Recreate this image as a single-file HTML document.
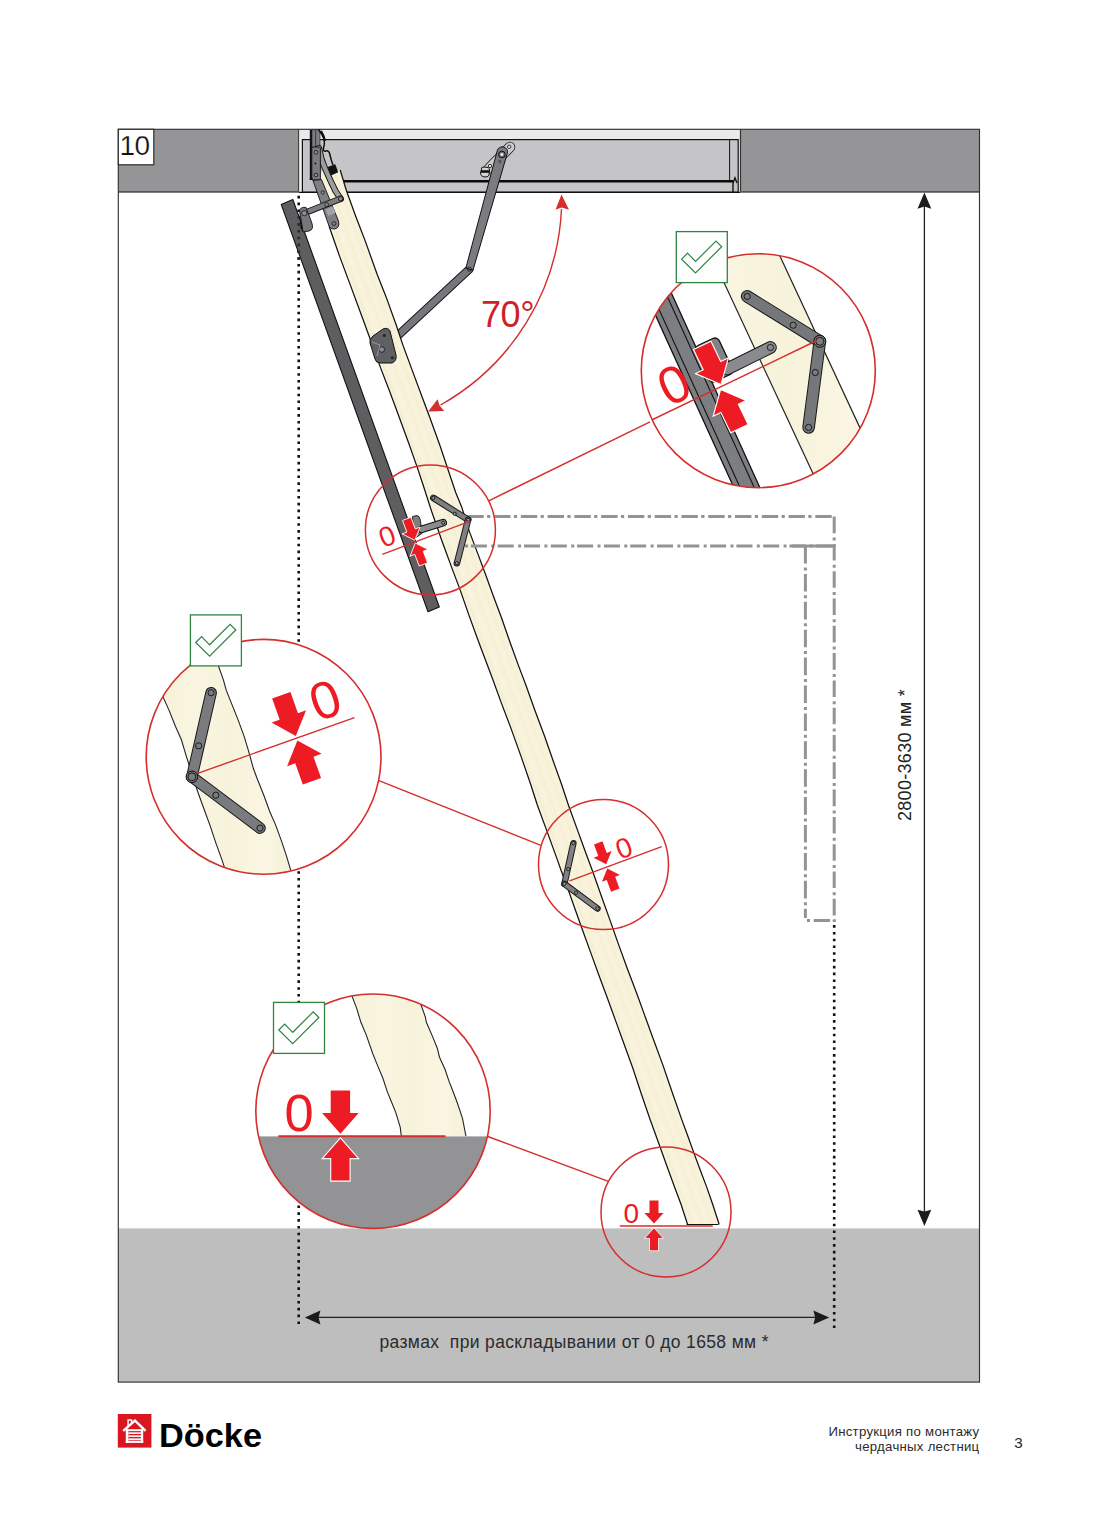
<!DOCTYPE html><html><head><meta charset="utf-8"><title>Docke</title><style>
html,body{margin:0;padding:0;background:#fff;}body{width:1099px;height:1536px;position:relative;overflow:hidden;font-family:"Liberation Sans",sans-serif;}
svg{position:absolute;left:0;top:0;}
.t{position:absolute;white-space:nowrap;color:#2b2b2b;}
</style></head><body>
<svg width="1099" height="1536" viewBox="0 0 1099 1536">
<defs>
<linearGradient id="wood" x1="0" y1="0" x2="1" y2="0"><stop offset="0" stop-color="#f6f0d6"/><stop offset="0.3" stop-color="#f9f5e1"/><stop offset="0.55" stop-color="#f7f2da"/><stop offset="0.8" stop-color="#faf6e3"/><stop offset="1" stop-color="#f6f0d6"/></linearGradient>
</defs>
<rect x="118.3" y="129.3" width="861.2" height="1252.2" fill="#fff"/>
<rect x="118.3" y="129.3" width="861.2" height="62.5" fill="#959597"/>
<rect x="118.3" y="1228.4" width="861.2" height="153.6" fill="#bebebe"/>
<rect x="298.6" y="129.3" width="441.8" height="62.7" fill="#ebeaea"/>
<rect x="302.4" y="139.6" width="435.8" height="52.6" fill="#c5c5c7" stroke="#111" stroke-width="1.2"/>
<line x1="729.6" y1="139.6" x2="729.6" y2="181" stroke="#111" stroke-width="1"/>
<line x1="336" y1="181.3" x2="733" y2="181.3" stroke="#0a0a0a" stroke-width="2.6"/>
<line x1="298.6" y1="129.3" x2="298.6" y2="192" stroke="#333" stroke-width="1"/>
<line x1="740.5" y1="129.3" x2="740.5" y2="192" stroke="#333" stroke-width="1.2"/>
<path d="M733,192 L733,183 L735,178 L737,183" fill="none" stroke="#111" stroke-width="1.4"/>
<line x1="118.3" y1="191.8" x2="299" y2="191.8" stroke="#555355" stroke-width="1.8"/>
<line x1="740" y1="191.8" x2="979.5" y2="191.8" stroke="#555355" stroke-width="1.8"/>
<line x1="299" y1="192.4" x2="740" y2="192.4" stroke="#111" stroke-width="1.2"/>
<rect x="118.3" y="129.3" width="861.2" height="1252.8" fill="none" stroke="#333" stroke-width="1.15"/>
<rect x="118.3" y="129.3" width="35.5" height="35.5" fill="#fff" stroke="#2d2d2d" stroke-width="1.2"/>
<line x1="298.7" y1="195.8" x2="298.7" y2="1325" stroke="#111" stroke-width="2.6" stroke-dasharray="2.6 4.222"/>
<line x1="834.2" y1="925.1" x2="834.2" y2="1328.5" stroke="#111" stroke-width="2.6" stroke-dasharray="2.6 4.186"/>
<path d="M469.4,269.2 L392,341" fill="none" stroke="#1a1a1a" stroke-width="8.6" stroke-linecap="round" stroke-linejoin="round"/><path d="M469.4,269.2 L392,341" fill="none" stroke="#76777b" stroke-width="6.6" stroke-linecap="round" stroke-linejoin="round"/>
<clipPath id="stc"><polygon points="312.0,172.0 318.0,190.0 324.5,210.0 329.1,226.3 339.7,256.6 351.0,286.9 363.7,321.2 371.6,343.0 380.5,367.6 389.8,391.8 399.5,418.0 409.1,444.2 417.6,468.4 422.8,484.0 431.6,511.3 442.5,542.5 452.5,569.6 460.3,590.4 469.0,615.4 477.3,638.3 485.2,659.2 493.0,680.0 501.3,702.9 510.8,727.9 521.3,757.1 530.9,785.0 537.3,805.0 547.3,832.1 556.4,857.1 561.6,871.7 567.7,888.3 575.1,909.2 582.5,930.0 590.8,952.9 599.1,975.8 606.9,996.7 615.2,1019.6 623.5,1042.5 632.6,1067.5 641.7,1095.0 650.2,1119.7 658.9,1143.7 666.7,1165.5 673.9,1185.2 681.2,1204.8 687.6,1224.5 719.2,1224.5 712.5,1203.7 706.8,1187.4 700.6,1171.0 694.5,1154.6 687.8,1136.0 681.4,1118.6 671.4,1090.0 663.0,1065.4 653.0,1038.3 644.7,1015.4 636.4,992.5 626.9,967.5 618.6,944.6 609.8,919.6 601.6,896.7 592.8,871.7 585.0,850.8 576.7,827.9 568.4,805.0 561.1,783.0 553.3,761.3 544.6,736.3 534.5,709.2 526.3,686.3 518.4,665.4 510.1,642.5 501.4,617.5 493.6,596.7 485.3,573.8 477.5,552.9 469.6,532.1 461.7,507.1 455.8,492.7 449.0,472.5 440.2,446.3 430.0,418.0 422.4,397.8 412.7,371.6 403.0,345.4 396.3,325.2 386.1,296.9 377.3,274.7 365.0,240.4 355.7,216.2 346.2,190.0 340.2,170.0"/></clipPath>
<polygon points="312.0,172.0 318.0,190.0 324.5,210.0 329.1,226.3 339.7,256.6 351.0,286.9 363.7,321.2 371.6,343.0 380.5,367.6 389.8,391.8 399.5,418.0 409.1,444.2 417.6,468.4 422.8,484.0 431.6,511.3 442.5,542.5 452.5,569.6 460.3,590.4 469.0,615.4 477.3,638.3 485.2,659.2 493.0,680.0 501.3,702.9 510.8,727.9 521.3,757.1 530.9,785.0 537.3,805.0 547.3,832.1 556.4,857.1 561.6,871.7 567.7,888.3 575.1,909.2 582.5,930.0 590.8,952.9 599.1,975.8 606.9,996.7 615.2,1019.6 623.5,1042.5 632.6,1067.5 641.7,1095.0 650.2,1119.7 658.9,1143.7 666.7,1165.5 673.9,1185.2 681.2,1204.8 687.6,1224.5 719.2,1224.5 712.5,1203.7 706.8,1187.4 700.6,1171.0 694.5,1154.6 687.8,1136.0 681.4,1118.6 671.4,1090.0 663.0,1065.4 653.0,1038.3 644.7,1015.4 636.4,992.5 626.9,967.5 618.6,944.6 609.8,919.6 601.6,896.7 592.8,871.7 585.0,850.8 576.7,827.9 568.4,805.0 561.1,783.0 553.3,761.3 544.6,736.3 534.5,709.2 526.3,686.3 518.4,665.4 510.1,642.5 501.4,617.5 493.6,596.7 485.3,573.8 477.5,552.9 469.6,532.1 461.7,507.1 455.8,492.7 449.0,472.5 440.2,446.3 430.0,418.0 422.4,397.8 412.7,371.6 403.0,345.4 396.3,325.2 386.1,296.9 377.3,274.7 365.0,240.4 355.7,216.2 346.2,190.0 340.2,170.0" fill="#f7f2d9" stroke="none"/>
<g clip-path="url(#stc)" opacity="0.35">
<line x1="309.9" y1="160" x2="694.3" y2="1230" stroke="#efe6c4" stroke-width="1.5"/>
<line x1="314.9" y1="160" x2="699.3" y2="1230" stroke="#fbf8ea" stroke-width="2.5"/>
<line x1="320.9" y1="160" x2="705.3" y2="1230" stroke="#f1e8c8" stroke-width="1.2"/>
<line x1="324.9" y1="160" x2="709.3" y2="1230" stroke="#fbf7e6" stroke-width="2"/>
<line x1="329.9" y1="160" x2="714.3" y2="1230" stroke="#f2e9c9" stroke-width="1.4"/>
</g>
<polyline points="329.1,226.3 339.7,256.6 351.0,286.9 363.7,321.2 371.6,343.0 380.5,367.6 389.8,391.8 399.5,418.0 409.1,444.2 417.6,468.4 422.8,484.0 431.6,511.3 442.5,542.5 452.5,569.6 460.3,590.4 469.0,615.4 477.3,638.3 485.2,659.2 493.0,680.0 501.3,702.9 510.8,727.9 521.3,757.1 530.9,785.0 537.3,805.0 547.3,832.1 556.4,857.1 561.6,871.7 567.7,888.3 575.1,909.2 582.5,930.0 590.8,952.9 599.1,975.8 606.9,996.7 615.2,1019.6 623.5,1042.5 632.6,1067.5 641.7,1095.0 650.2,1119.7 658.9,1143.7 666.7,1165.5 673.9,1185.2 681.2,1204.8 687.6,1224.5" fill="none" stroke="#111" stroke-width="1.25" stroke-linejoin="round"/>
<polyline points="340.2,170.0 346.2,190.0 355.7,216.2 365.0,240.4 377.3,274.7 386.1,296.9 396.3,325.2 403.0,345.4 412.7,371.6 422.4,397.8 430.0,418.0 440.2,446.3 449.0,472.5 455.8,492.7 461.7,507.1 469.6,532.1 477.5,552.9 485.3,573.8 493.6,596.7 501.4,617.5 510.1,642.5 518.4,665.4 526.3,686.3 534.5,709.2 544.6,736.3 553.3,761.3 561.1,783.0 568.4,805.0 576.7,827.9 585.0,850.8 592.8,871.7 601.6,896.7 609.8,919.6 618.6,944.6 626.9,967.5 636.4,992.5 644.7,1015.4 653.0,1038.3 663.0,1065.4 671.4,1090.0 681.4,1118.6 687.8,1136.0 694.5,1154.6 700.6,1171.0 706.8,1187.4 712.5,1203.7 719.2,1224.5" fill="none" stroke="#111" stroke-width="1.25" stroke-linejoin="round"/>
<line x1="686.6" y1="1224.5" x2="718.3" y2="1224.5" stroke="#111" stroke-width="1.2"/>
<polygon points="281.2,204.4 292.8,199.5 439.3,607 428,611.7" fill="#5f5d60" stroke="#111" stroke-width="1.1" stroke-linejoin="round"/>
<line x1="298.7" y1="216.27" x2="298.7" y2="262" stroke="#2a2a2a" stroke-width="2.6" stroke-dasharray="2.6 4.222"/>
<path d="M489,168.5 L510,147" fill="none" stroke="#1a1a1a" stroke-width="10.6" stroke-linecap="round"/>
<path d="M489,168.5 L510,147" fill="none" stroke="#cdcdcf" stroke-width="9" stroke-linecap="round"/>
<circle cx="509.2" cy="146.8" r="1.7" fill="#e4e4e4" stroke="#111" stroke-width="0.8"/>
<circle cx="490" cy="166" r="1.7" fill="#e4e4e4" stroke="#111" stroke-width="0.8"/>
<path d="M481.5,169 Q481,167 484,167 L488,167.5 Q490,168 489.5,171 L489,175 Q488.5,177 485,177 Q480.5,176.5 480.5,173 Z" fill="#d4d4d6" stroke="#111" stroke-width="1"/>
<rect x="481" y="170.2" width="8.4" height="2.6" fill="#111"/>
<path d="M497.29,150.59 A5.2,5.2 0 0,1 507.31,153.41 L472.96,270.20 L465.84,268.20 Z" fill="#7b7c80" stroke="#111" stroke-width="1"/>
<circle cx="501.9" cy="154.5" r="3.3" fill="#7b7c80" stroke="#111" stroke-width="1"/>
<circle cx="501.9" cy="154.5" r="2" fill="#e8e8e8" stroke="#222" stroke-width="0.5"/>
<circle cx="499.8" cy="161.5" r="1.1" fill="none" stroke="#222" stroke-width="0.6"/>
<circle cx="469.4" cy="269.2" r="2" fill="none" stroke="#111" stroke-width="0.8"/>
<path d="M373,336 L383,329 Q388,327 390,331 L396,355 Q397,361 392,363 L380,363 Q376,363 375,359 L370,343 Q369,339 373,336 Z" fill="#5f6064" stroke="#111" stroke-width="1"/>
<circle cx="381.8" cy="349.5" r="2.8" fill="#8a8b8f" stroke="#111" stroke-width="0.8"/>
<circle cx="384.3" cy="335.5" r="1.5" fill="#222"/>
<circle cx="392.3" cy="357.8" r="1.5" fill="#222"/>
<path d="M372,342 L380,345 L377,356" fill="none" stroke="#aaa" stroke-width="0.8"/>
<rect x="309.8" y="129.8" width="2.4" height="50.2" fill="#111"/>
<rect x="312" y="129.8" width="3.4" height="17.5" fill="#7d7e82" stroke="#222" stroke-width="0.6"/>
<rect x="315.8" y="129.8" width="4.2" height="17.5" fill="#7d7e82" stroke="#222" stroke-width="0.6"/>
<path d="M318.5,129.5 Q322,134 324,139 Q325,144 323.5,148 Q323,152 326,151 Q329,150 330,155 Q331,160 333,165" fill="none" stroke="#111" stroke-width="1.5"/>
<path d="M321,131 Q324,136 325,141" fill="none" stroke="#111" stroke-width="2.2"/>
<path d="M319,148 Q321,160 325.5,169.5 Q330,180 335.5,191 L340.6,198.9" fill="none" stroke="#111" stroke-width="6.2" stroke-linecap="round"/>
<path d="M319,148 Q321,160 325.5,169.5 Q330,180 335.5,191 L340.6,198.9" fill="none" stroke="#9c9da1" stroke-width="4.4" stroke-linecap="round"/>
<polygon points="327.6,167 335.3,164.2 338.2,172.3 331,175.6" fill="#111"/>
<rect x="311.8" y="147" width="8.6" height="33" rx="1" fill="#7b7c80" stroke="#111" stroke-width="0.9"/>
<circle cx="316" cy="152.3" r="1.9" fill="#8e8f93" stroke="#111" stroke-width="0.8"/>
<circle cx="316" cy="175" r="1.9" fill="#8e8f93" stroke="#111" stroke-width="0.8"/>
<circle cx="315.4" cy="163.5" r="0.9" fill="#111"/>
<path d="M309.5,180 L311,175 L313,180 Z" fill="#111"/>
<path d="M313,180.5 L321.5,179.5 L338.5,221 Q340,228 334.5,229 Q330.5,229.5 329,226 Z" fill="#7f8084" stroke="#111" stroke-width="0.9" stroke-linejoin="round"/>
<path d="M325.6,209.5 L333,206.5 L335.5,213 L328.2,216 Z" fill="#a3a4a8"/>
<circle cx="322.7" cy="192.4" r="1.7" fill="#86878b" stroke="#111" stroke-width="0.7"/>
<circle cx="334" cy="223.6" r="1.9" fill="#86878b" stroke="#111" stroke-width="0.8"/>
<path d="M304.1,213.2 L340.6,198.7" fill="none" stroke="#1a1a1a" stroke-width="6.6" stroke-linecap="round" stroke-linejoin="round"/><path d="M304.1,213.2 L340.6,198.7" fill="none" stroke="#7b7c80" stroke-width="4.6" stroke-linecap="round" stroke-linejoin="round"/>
<circle cx="340.6" cy="198.7" r="2.1" fill="#8e8f93" stroke="#111" stroke-width="0.8"/>
<circle cx="326.6" cy="204.6" r="1.9" fill="#8e8f93" stroke="#111" stroke-width="0.8"/>
<path d="M299.5,210 Q301.5,206.5 306,207.5 L311.5,222 Q314.5,229.5 309,231 L303,232 Z" fill="#76777b" stroke="#111" stroke-width="0.9"/>
<path d="M299.5,212 L303,232 L300.5,228 Z" fill="#111"/>
<circle cx="304.3" cy="213.2" r="2.6" fill="#8f9094" stroke="#111" stroke-width="0.8"/>
<path d="M561.5,209 A237.5,237.5 0 0,1 440.5,405" fill="none" stroke="#d52e2c" stroke-width="1.4"/>
<path d="M561.5,194.5 L569,209.8 L561.5,207.6 L555.5,209.8 Z" fill="#d52e2c"/>
<path d="M428.2,411.6 L437.6,399.3 L439.6,405.4 L444.2,411 Z" fill="#d52e2c"/>
<line x1="924.4" y1="205" x2="924.4" y2="1212" stroke="#222" stroke-width="1.3"/>
<path d="M924.4,192.6 L931.3,208.8 L924.4,206.6 L917.5,208.8 Z" fill="#1e1b1b"/>
<path d="M924.4,1225.9 L931.3,1209.8 L924.4,1211.6 L917.5,1209.8 Z" fill="#1e1b1b"/>
<line x1="316" y1="1317.4" x2="817" y2="1317.4" stroke="#222" stroke-width="1.2"/>
<path d="M304.8,1317.4 L320.4,1310.4 L318.6,1317.4 L320.4,1324.6 Z" fill="#1e1b1b"/>
<path d="M829.2,1317.4 L813.4,1310.4 L815.2,1317.4 L813.4,1324.6 Z" fill="#1e1b1b"/>
<line x1="467.3" y1="516.6" x2="834.2" y2="516.6" stroke="#939393" stroke-width="3" fill="none" stroke-dasharray="16.4 3.4 3.2 3.77"/>
<line x1="834.2" y1="516.6" x2="834.2" y2="922" stroke="#939393" stroke-width="3" fill="none" stroke-dasharray="16.6 4.2 3 3.5"/>
<line x1="465" y1="546" x2="834.2" y2="546" stroke="#939393" stroke-width="3" fill="none" stroke-dasharray="3 2.9 16 4.4 3 3.4 16 4.4" stroke-dashoffset="0"/>
<line x1="805.4" y1="546" x2="805.4" y2="918" stroke="#939393" stroke-width="3" fill="none" stroke-dasharray="17.6 3.8 3 3.5"/>
<line x1="792.4" y1="546" x2="835.5" y2="546" stroke="#939393" stroke-width="3" fill="none"/>
<line x1="806" y1="920.5" x2="835.5" y2="920.5" stroke="#939393" stroke-width="3" fill="none" stroke-dasharray="0 1 3 3.7 16.4 3"/>
<path d="M412.6,516.5 L417,515.5 Q419.5,516 420,519 L422.5,533 L416,537.5 L413,536 Z" fill="#7d7e82" stroke="#111" stroke-width="0.9"/>
<path d="M421.6,529.4 L443.2,522.7" fill="none" stroke="#111" stroke-width="7.6" stroke-linecap="round" stroke-linejoin="round"/><path d="M421.6,529.4 L443.2,522.7" fill="none" stroke="#8a8b8f" stroke-width="5.6" stroke-linecap="round" stroke-linejoin="round"/>
<path d="M433.3,497.9 L468.1,519.8" fill="none" stroke="#1a1a1a" stroke-width="6.6" stroke-linecap="round" stroke-linejoin="round"/><path d="M433.3,497.9 L468.1,519.8" fill="none" stroke="#7e7f83" stroke-width="4.6" stroke-linecap="round" stroke-linejoin="round"/>
<path d="M468.1,519.8 L456.9,563.2" fill="none" stroke="#1a1a1a" stroke-width="6.6" stroke-linecap="round" stroke-linejoin="round"/><path d="M468.1,519.8 L456.9,563.2" fill="none" stroke="#7e7f83" stroke-width="4.6" stroke-linecap="round" stroke-linejoin="round"/>
<circle cx="433.3" cy="497.9" r="1.6" fill="#9a9b9f" stroke="#111" stroke-width="0.9"/>
<circle cx="454.7" cy="513.8" r="1.6" fill="#9a9b9f" stroke="#111" stroke-width="0.9"/>
<circle cx="443.2" cy="522.7" r="1.6" fill="#9a9b9f" stroke="#111" stroke-width="0.9"/>
<circle cx="456.9" cy="563.2" r="1.6" fill="#9a9b9f" stroke="#111" stroke-width="0.9"/>
<circle cx="468.1" cy="519.8" r="1.6" fill="#9a9b9f" stroke="#111" stroke-width="0.9"/>
<path d="M573.4,843.2 L564.4,883.9" fill="none" stroke="#1a1a1a" stroke-width="6.4" stroke-linecap="round" stroke-linejoin="round"/><path d="M573.4,843.2 L564.4,883.9" fill="none" stroke="#808185" stroke-width="4.4" stroke-linecap="round" stroke-linejoin="round"/>
<path d="M564.4,883.9 L597.5,908.5" fill="none" stroke="#1a1a1a" stroke-width="6.4" stroke-linecap="round" stroke-linejoin="round"/><path d="M564.4,883.9 L597.5,908.5" fill="none" stroke="#808185" stroke-width="4.4" stroke-linecap="round" stroke-linejoin="round"/>
<circle cx="573.4" cy="843.2" r="1.6" fill="#9a9b9f" stroke="#111" stroke-width="0.9"/>
<circle cx="568.2" cy="869.2" r="1.6" fill="#9a9b9f" stroke="#111" stroke-width="0.9"/>
<circle cx="564.4" cy="883.9" r="1.6" fill="#9a9b9f" stroke="#111" stroke-width="0.9"/>
<circle cx="576.1" cy="892.7" r="1.6" fill="#9a9b9f" stroke="#111" stroke-width="0.9"/>
<circle cx="597.5" cy="908.5" r="1.6" fill="#9a9b9f" stroke="#111" stroke-width="0.9"/>
<line x1="382.3" y1="554.3" x2="470.2" y2="521.1" stroke="#d52e2c" stroke-width="1.3"/>
<g transform="translate(414.8,540.3) rotate(-20.7)"><path d="M0,0 L-9.6,-10.5 L-4.5,-10.5 L-4.5,-22.9 L4.5,-22.9 L4.5,-10.5 L9.6,-10.5 Z" fill="#ed1c24" stroke="#fff" stroke-width="0.8"/></g>
<g transform="translate(415.3,543.0) rotate(159.3)"><path d="M0,0 L-9.6,-10.5 L-4.5,-10.5 L-4.5,-22.9 L4.5,-22.9 L4.5,-10.5 L9.6,-10.5 Z" fill="#ed1c24" stroke="#fff" stroke-width="0.8"/></g>
<g transform="translate(387,535.8) rotate(-20.7)"><text x="0" y="10.02" font-family="Liberation Sans" font-size="28" text-anchor="middle" fill="#ed1c24">0</text></g>
<circle cx="430.4" cy="529.9" r="65" fill="none" stroke="#d52e2c" stroke-width="1.5"/>
<line x1="569.6" y1="880.8" x2="661.7" y2="846.6" stroke="#d52e2c" stroke-width="1.3"/>
<g transform="translate(606.2,864.3) rotate(-20.4)"><path d="M0,0 L-9.6,-10.5 L-4.5,-10.5 L-4.5,-22.9 L4.5,-22.9 L4.5,-10.5 L9.6,-10.5 Z" fill="#ed1c24"/></g>
<g transform="translate(607.3,868.6) rotate(159.6)"><path d="M0,0 L-9.6,-10.5 L-4.5,-10.5 L-4.5,-22.9 L4.5,-22.9 L4.5,-10.5 L9.6,-10.5 Z" fill="#ed1c24"/></g>
<g transform="translate(623.9,847.7) rotate(-20.4)"><text x="0" y="10.02" font-family="Liberation Sans" font-size="28" text-anchor="middle" fill="#ed1c24">0</text></g>
<circle cx="603.5" cy="864.5" r="65" fill="none" stroke="#d52e2c" stroke-width="1.5"/>
<line x1="619.8" y1="1226" x2="712.8" y2="1226" stroke="#d52e2c" stroke-width="1.6"/>
<g transform="translate(654,1223.4) rotate(0)"><path d="M0,0 L-9.6,-10.5 L-4.5,-10.5 L-4.5,-22.9 L4.5,-22.9 L4.5,-10.5 L9.6,-10.5 Z" fill="#ed1c24"/></g>
<g transform="translate(654,1227.9) rotate(180)"><path d="M0,0 L-9.6,-10.5 L-4.5,-10.5 L-4.5,-22.9 L4.5,-22.9 L4.5,-10.5 L9.6,-10.5 Z" fill="#ed1c24" stroke="#fff" stroke-width="0.8"/></g>
<g transform="translate(631.3,1212.6) rotate(0)"><text x="0" y="10.02" font-family="Liberation Sans" font-size="28" text-anchor="middle" fill="#ed1c24">0</text></g>
<circle cx="666" cy="1212" r="65" fill="none" stroke="#d52e2c" stroke-width="1.5"/>
<line x1="488.7" y1="500.8" x2="650" y2="421.9" stroke="#d52e2c" stroke-width="1.4"/>
<line x1="377.7" y1="780.1" x2="540.9" y2="845.3" stroke="#d52e2c" stroke-width="1.4"/>
<line x1="487.7" y1="1136.5" x2="608.4" y2="1181.4" stroke="#d52e2c" stroke-width="1.4"/>
<defs>
<clipPath id="c1"><circle cx="758.3" cy="370.7" r="117"/></clipPath>
<clipPath id="c2"><circle cx="263.6" cy="756.8" r="117.4"/></clipPath>
<clipPath id="c3"><circle cx="373" cy="1111.2" r="117.2"/></clipPath>
</defs>
<circle cx="758.3" cy="370.7" r="117" fill="#fff"/>
<g clip-path="url(#c1)">
<polygon points="640.1,102.5 696.2,76.4 907.4,529.6 851.3,555.7" fill="url(#wood)"/>
<line x1="640.1" y1="102.5" x2="851.3" y2="555.7" stroke="#222" stroke-width="1.2"/>
<line x1="696.2" y1="76.4" x2="907.4" y2="529.6" stroke="#222" stroke-width="1.2"/>
<polygon points="574.2,136.5 595.7,126.7 802.7,581.8 781.2,591.6" fill="#7d7e82" stroke="#111" stroke-width="1.3"/>
<line x1="579.3" y1="134.1" x2="786.3" y2="589.2" stroke="#111" stroke-width="1.1"/>
<line x1="591.0" y1="128.8" x2="798.1" y2="583.9" stroke="#111" stroke-width="1.1"/>
<g transform="translate(714,360) rotate(-25)"><rect x="-13" y="-20" width="26" height="40" rx="5" fill="#818286" stroke="#111" stroke-width="1.3"/></g>
<path d="M727,369 L770.4,347.5" fill="none" stroke="#1a1a1a" stroke-width="12.8" stroke-linecap="round" stroke-linejoin="round"/><path d="M727,369 L770.4,347.5" fill="none" stroke="#8a8b8f" stroke-width="10.8" stroke-linecap="round" stroke-linejoin="round"/>
<circle cx="770.4" cy="347.5" r="3.1" fill="#8a8b8f" stroke="#111" stroke-width="0.9"/>
<path d="M747.2,296.4 L819.8,341.3" fill="none" stroke="#1a1a1a" stroke-width="12.6" stroke-linecap="round" stroke-linejoin="round"/><path d="M747.2,296.4 L819.8,341.3" fill="none" stroke="#76777b" stroke-width="10.6" stroke-linecap="round" stroke-linejoin="round"/>
<path d="M819.8,341.3 L808.6,427.4" fill="none" stroke="#1a1a1a" stroke-width="12.6" stroke-linecap="round" stroke-linejoin="round"/><path d="M819.8,341.3 L808.6,427.4" fill="none" stroke="#76777b" stroke-width="10.6" stroke-linecap="round" stroke-linejoin="round"/>
<circle cx="747.2" cy="296.4" r="3.1" fill="#7a7b7f" stroke="#111" stroke-width="0.9"/>
<circle cx="793.2" cy="325.2" r="3.1" fill="#7a7b7f" stroke="#111" stroke-width="0.9"/>
<circle cx="815.3" cy="372.5" r="3.1" fill="#7a7b7f" stroke="#111" stroke-width="0.9"/>
<circle cx="808.6" cy="427.4" r="3.1" fill="#7a7b7f" stroke="#111" stroke-width="0.9"/>
<circle cx="819.8" cy="341.3" r="6" fill="#76777b" stroke="#111" stroke-width="1"/>
<circle cx="819.8" cy="341.3" r="4" fill="#7c7d81" stroke="#111" stroke-width="0.9"/>
<line x1="630" y1="430.4" x2="816.9" y2="340.5" stroke="#d52e2c" stroke-width="1.4"/>
<g transform="translate(721,384.4) rotate(-25.7)"><path d="M0,0 L-18.3,-20.8 L-9.7,-20.8 L-9.7,-43.3 L9.7,-43.3 L9.7,-20.8 L18.3,-20.8 Z" fill="#ed1c24" stroke="#fff" stroke-width="1.1" stroke-linejoin="miter"/></g>
<g transform="translate(720.6,389.6) rotate(154.3)"><path d="M0,0 L-18.3,-20.8 L-9.7,-20.8 L-9.7,-43.3 L9.7,-43.3 L9.7,-20.8 L18.3,-20.8 Z" fill="#ed1c24" stroke="#fff" stroke-width="1.1" stroke-linejoin="miter"/></g>
<g transform="translate(673.7,384) rotate(-25.7)"><text x="0" y="18.79" font-family="Liberation Sans" font-size="52.5" text-anchor="middle" fill="#ed1c24">0</text></g>
</g>
<circle cx="758.3" cy="370.7" r="117" fill="none" stroke="#d52e2c" stroke-width="1.6"/>
<circle cx="263.6" cy="756.8" r="117.4" fill="#fff"/>
<g clip-path="url(#c2)">
<polygon points="152,670 163.5,697.9 169.5,711.4 175.4,726.3 181.4,739.8 185.9,754.8 190,768 194,780 197.9,792.2 203.9,808.7 209.9,825.1 215.9,843.1 221.9,859.6 224.1,866.3 228,878 294,880 290.7,870.1 286.2,855.1 281.7,841.6 275.7,825.1 269.8,811.7 263.8,795.2 257.8,780.2 253.3,768.3 248.8,751.8 244.3,736.8 238.3,720.4 232.3,705.4 226.3,690.4 223.4,679.9 218.1,665 212,648" fill="url(#wood)"/>
<polyline points="152,670 163.5,697.9 169.5,711.4 175.4,726.3 181.4,739.8 185.9,754.8 190,768 194,780 197.9,792.2 203.9,808.7 209.9,825.1 215.9,843.1 221.9,859.6 224.1,866.3 228,878" fill="none" stroke="#222" stroke-width="1.1"/>
<polyline points="212,648 218.1,665 223.4,679.9 226.3,690.4 232.3,705.4 238.3,720.4 244.3,736.8 248.8,751.8 253.3,768.3 257.8,780.2 263.8,795.2 269.8,811.7 275.7,825.1 281.7,841.6 286.2,855.1 290.7,870.1 294,880" fill="none" stroke="#222" stroke-width="1.1"/>
<path d="M211.1,692.7 L191.9,776.8" fill="none" stroke="#1a1a1a" stroke-width="11.6" stroke-linecap="round" stroke-linejoin="round"/><path d="M211.1,692.7 L191.9,776.8" fill="none" stroke="#7a7b7f" stroke-width="9.6" stroke-linecap="round" stroke-linejoin="round"/>
<path d="M191.9,776.8 L260,828.1" fill="none" stroke="#1a1a1a" stroke-width="11.6" stroke-linecap="round" stroke-linejoin="round"/><path d="M191.9,776.8 L260,828.1" fill="none" stroke="#7a7b7f" stroke-width="9.6" stroke-linecap="round" stroke-linejoin="round"/>
<circle cx="211.1" cy="692.7" r="3.1" fill="#7a7b7f" stroke="#111" stroke-width="0.9"/>
<circle cx="198.7" cy="745.8" r="3.1" fill="#7a7b7f" stroke="#111" stroke-width="0.9"/>
<circle cx="215.9" cy="795.2" r="3.1" fill="#7a7b7f" stroke="#111" stroke-width="0.9"/>
<circle cx="260" cy="828.1" r="3.1" fill="#7a7b7f" stroke="#111" stroke-width="0.9"/>
<circle cx="191.9" cy="776.8" r="5.8" fill="#75767a" stroke="#111" stroke-width="1"/>
<circle cx="191.9" cy="776.8" r="3.9" fill="#7c7d81" stroke="#111" stroke-width="0.9"/>
<line x1="197" y1="773.6" x2="354.5" y2="717.6" stroke="#d52e2c" stroke-width="1.4"/>
<g transform="translate(295.8,736.0) rotate(-19.6)"><path d="M0,0 L-18.3,-20.8 L-9.7,-20.8 L-9.7,-43.3 L9.7,-43.3 L9.7,-20.8 L18.3,-20.8 Z" fill="#ed1c24"/></g>
<g transform="translate(297.4,740.4) rotate(160.4)"><path d="M0,0 L-18.3,-20.8 L-9.7,-20.8 L-9.7,-43.3 L9.7,-43.3 L9.7,-20.8 L18.3,-20.8 Z" fill="#ed1c24"/></g>
<g transform="translate(325,699.3) rotate(-19.6)"><text x="0" y="18.79" font-family="Liberation Sans" font-size="52.5" text-anchor="middle" fill="#ed1c24">0</text></g>
</g>
<circle cx="263.6" cy="756.8" r="117.4" fill="none" stroke="#d52e2c" stroke-width="1.6"/>
<circle cx="373" cy="1111.2" r="117.2" fill="#fff"/>
<g clip-path="url(#c3)">
<rect x="250" y="1136.4" width="250" height="120" fill="#939395"/>
<polygon points="345.5,978 352.2,996.6 356.6,1008.1 360.9,1022.3 366.4,1035.4 372.9,1054 377.3,1064.9 382.8,1078 387.1,1091.1 391.5,1102 395.9,1112.9 400.2,1127.1 401.3,1136 466,1136 465.7,1134.8 462.5,1118.4 457,1102 451.6,1087.8 449.4,1082.4 445,1069.3 439.5,1057.2 437.4,1048.5 433,1037.6 426.4,1022.3 425.3,1016.8 421,1004.8 414,985" fill="url(#wood)"/>
<polyline points="345.5,978 352.2,996.6 356.6,1008.1 360.9,1022.3 366.4,1035.4 372.9,1054 377.3,1064.9 382.8,1078 387.1,1091.1 391.5,1102 395.9,1112.9 400.2,1127.1 401.3,1136" fill="none" stroke="#222" stroke-width="1.1"/>
<polyline points="414,985 421,1004.8 425.3,1016.8 426.4,1022.3 433,1037.6 437.4,1048.5 439.5,1057.2 445,1069.3 449.4,1082.4 451.6,1087.8 457,1102 462.5,1118.4 465.7,1134.8 466,1136" fill="none" stroke="#222" stroke-width="1.1"/>
<line x1="278.4" y1="1136.2" x2="445.6" y2="1136.2" stroke="#d52e2c" stroke-width="2"/>
<g transform="translate(340.4,1133.7) rotate(0)"><path d="M0,0 L-18.3,-20.8 L-9.7,-20.8 L-9.7,-43.3 L9.7,-43.3 L9.7,-20.8 L18.3,-20.8 Z" fill="#ed1c24"/></g>
<g transform="translate(340.4,1137.8) rotate(180)"><path d="M0,0 L-18.3,-20.8 L-9.7,-20.8 L-9.7,-43.3 L9.7,-43.3 L9.7,-20.8 L18.3,-20.8 Z" fill="#ed1c24" stroke="#fff" stroke-width="1.1" stroke-linejoin="miter"/></g>
<g transform="translate(299.1,1112.4) rotate(0)"><text x="0" y="18.79" font-family="Liberation Sans" font-size="52.5" text-anchor="middle" fill="#ed1c24">0</text></g>
</g>
<circle cx="373" cy="1111.2" r="117.2" fill="none" stroke="#d52e2c" stroke-width="1.6"/>
<rect x="676.3" y="231.6" width="51" height="51" fill="#fff" stroke="#2f8440" stroke-width="1.3"/><polygon points="681.6,259.2 687.5,253.2 695.5,261.5 716.0,241.1 721.7,246.7 695.5,272.9" fill="none" stroke="#2f8440" stroke-width="1.2" stroke-linejoin="miter"/>
<rect x="190.4" y="614.9" width="51" height="51" fill="#fff" stroke="#2f8440" stroke-width="1.3"/><polygon points="195.7,642.5 201.6,636.5 209.6,644.8 230.1,624.4 235.8,630.0 209.6,656.2" fill="none" stroke="#2f8440" stroke-width="1.2" stroke-linejoin="miter"/>
<rect x="273.5" y="1002.4" width="51" height="51" fill="#fff" stroke="#2f8440" stroke-width="1.3"/><polygon points="278.8,1030.0 284.7,1024.0 292.7,1032.3 313.2,1011.9 318.9,1017.5 292.7,1043.7" fill="none" stroke="#2f8440" stroke-width="1.2" stroke-linejoin="miter"/>
<rect x="117.8" y="1414" width="33.6" height="33.6" fill="#da1720"/>
<polyline points="123.2,1430.8 135,1420.6 145.6,1430.8" fill="none" stroke="#fff" stroke-width="2.3"/>
<path d="M128.1,1426.6 L128.1,1419.9 L131.6,1419.9 L131.6,1423.2" fill="none" stroke="#fff" stroke-width="1.5"/>
<g fill="#fff"><rect x="125.8" y="1429.3" width="2.6" height="13.6"/><rect x="140.9" y="1429.3" width="2.3" height="13.6"/><rect x="125.8" y="1440.7" width="17.4" height="2.2"/><rect x="125.8" y="1429.2" width="17.4" height="1.9"/></g>
<g fill="#fdf0f0"><rect x="128.3" y="1432.3" width="12.7" height="1.7"/><rect x="128.3" y="1435.3" width="12.7" height="1.7"/><rect x="128.3" y="1438.3" width="12.7" height="1.7"/></g>
</svg>
<div class="t" id="ten" style="left:119.6px;top:130.2px;font-size:28px;line-height:32px;letter-spacing:-0.6px;color:#111;-webkit-text-stroke:0.25px #fff;">10</div>
<div class="t" id="sev" style="left:481px;top:295px;font-size:36px;line-height:40px;color:#d0202a;letter-spacing:-0.4px;">70°</div>
<div class="t" id="vt" style="left:905px;top:755px;font-size:18px;line-height:20px;letter-spacing:0.3px;transform:translate(-50%,-50%) rotate(-90deg);color:#222;">2800-3630 мм *</div>
<div class="t" id="ht" style="left:379.5px;top:1331.5px;font-size:17.5px;line-height:20px;letter-spacing:0.35px;color:#2b2b2b;">размах&nbsp; при раскладывании от 0 до 1658 мм *</div>
<div class="t" id="logo" style="left:159px;top:1415px;font-size:34px;line-height:40px;transform:scaleX(1.01);transform-origin:0 0;font-weight:bold;color:#000;">Döcke</div>
<div class="t" id="f1" style="right:119.6px;top:1424px;font-size:13.2px;line-height:15.3px;letter-spacing:0.27px;text-align:right;color:#2b2b2b;">Инструкция по монтажу<br>чердачных лестниц</div>
<div class="t" id="pg" style="left:1014.2px;top:1433.6px;font-size:15.2px;line-height:17px;color:#2b2b2b;">3</div>
</body></html>
